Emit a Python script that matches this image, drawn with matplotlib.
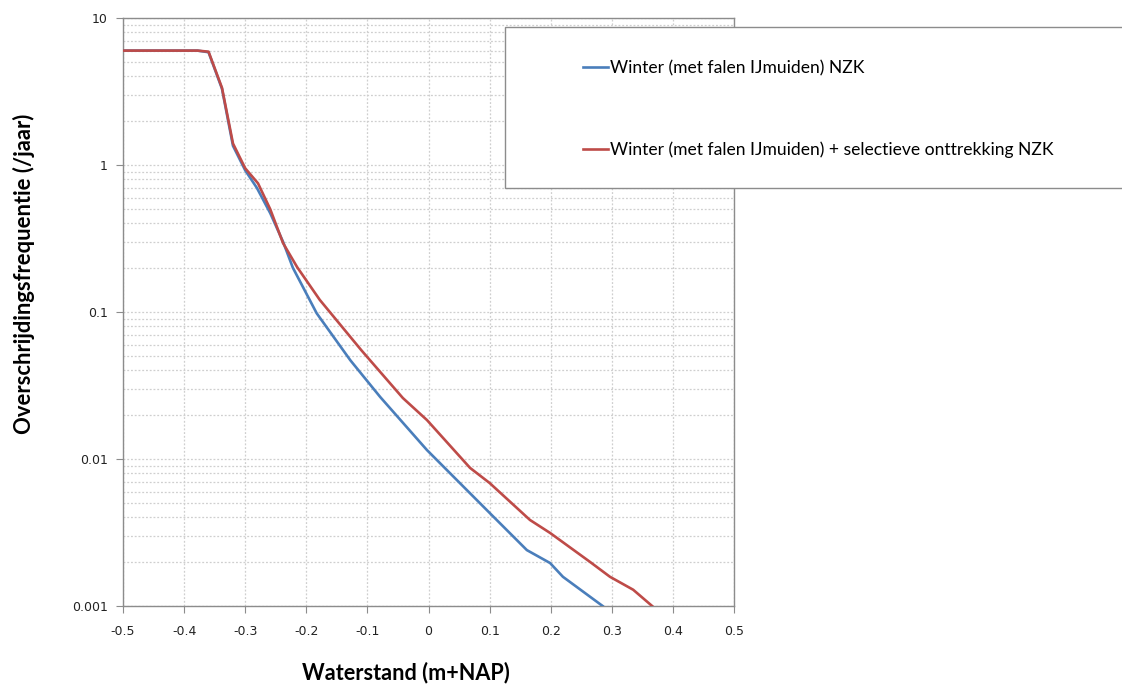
import matplotlib
matplotlib.use("Agg")
import matplotlib.pyplot as plt
from matplotlib.ticker import FixedLocator, FixedFormatter, LogLocator, NullFormatter
from matplotlib.patches import Rectangle
from matplotlib.lines import Line2D

# ---- data ----
blue_x = [-0.5, -0.378, -0.36, -0.338, -0.32, -0.30, -0.281, -0.259, -0.238,
          -0.222, -0.183, -0.128, -0.079, -0.0025, 0.10, 0.161, 0.199, 0.22, 0.285]
blue_y = [6.0, 6.0, 5.85, 3.3, 1.35, 0.92, 0.70, 0.47, 0.30,
          0.20, 0.098, 0.047, 0.0264, 0.0115, 0.0043, 0.0024, 0.00196, 0.00158, 0.001]

red_x = [-0.5, -0.378, -0.36, -0.338, -0.32, -0.30, -0.279, -0.259, -0.238,
         -0.215, -0.178, -0.11, -0.042, -0.0025, 0.068, 0.10, 0.166, 0.199,
         0.264, 0.297, 0.335, 0.366]
red_y = [6.0, 6.0, 5.9, 3.35, 1.4, 0.95, 0.75, 0.50, 0.294,
         0.202, 0.121, 0.055, 0.026, 0.0184, 0.0087, 0.00687, 0.00385, 0.00314,
         0.0020, 0.00158, 0.00129, 0.001]

x_ticks = [-0.5, -0.4, -0.3, -0.2, -0.1, 0.0, 0.1, 0.2, 0.3, 0.4, 0.5]
x_tick_labels = ["-0.5", "-0.4", "-0.3", "-0.2", "-0.1", "0", "0.1", "0.2", "0.3", "0.4", "0.5"]
y_ticks = [0.001, 0.01, 0.1, 1, 10]
y_tick_labels = ["0.001", "0.01", "0.1", "1", "10"]

label_blue = "Winter (met falen IJmuiden) NZK"
label_red = "Winter (met falen IJmuiden) + selectieve onttrekking NZK"
xlabel = "Waterstand (m+NAP)"
ylabel = "Overschrijdingsfrequentie (/jaar)"

blue_c = "#4a7ebb"
red_c = "#be4b48"
W, H = 1122, 684

fig = plt.figure(figsize=(W / 100, H / 100), dpi=100)
ax = fig.add_axes([123 / W, 1 - 606 / H, (734 - 123) / W, (606 - 18) / H])

ax.set_yscale("log")
ax.set_xlim(-0.5, 0.5)
ax.set_ylim(0.001, 10)

ax.plot(blue_x, blue_y, color=blue_c, lw=1.9, zorder=3)
ax.plot(red_x, red_y, color=red_c, lw=1.9, zorder=3)

ax.xaxis.set_major_locator(FixedLocator(x_ticks))
ax.xaxis.set_major_formatter(FixedFormatter(x_tick_labels))
ax.yaxis.set_major_locator(FixedLocator(y_ticks))
ax.yaxis.set_major_formatter(FixedFormatter(y_tick_labels))
ax.yaxis.set_minor_locator(LogLocator(base=10, subs=range(2, 10)))
ax.yaxis.set_minor_formatter(NullFormatter())

grid_kw = dict(color="#cfcfcf", linestyle=(0, (1.5, 1.5)), linewidth=0.9)
ax.grid(True, which="major", axis="both", **grid_kw)
ax.grid(True, which="minor", axis="y", **grid_kw)
ax.set_axisbelow(True)

for s in ax.spines.values():
    s.set_color("#8c8c8c")
    s.set_linewidth(1.0)

ax.tick_params(axis="x", which="major", direction="out", length=5,
               color="#8c8c8c", labelsize=9, labelcolor="#222222", pad=9)
ax.tick_params(axis="y", which="major", direction="out", length=5,
               color="#8c8c8c", labelsize=9, labelcolor="#222222", pad=6)
ax.tick_params(axis="y", which="minor", length=0)

for t in ax.get_xticklabels() + ax.get_yticklabels():
    t.set_family("DejaVu Sans")

fig.text(406 / W, 1 - 673 / H, xlabel, fontsize=15.6, fontweight="bold",
         family="Lato", ha="center", va="center")
fig.text(24 / W, 1 - 274 / H, ylabel, fontsize=15.8, fontweight="bold",
         family="Lato", ha="center", va="center", rotation=90)

# legend box (extends past the right edge as in the reference)
rect = Rectangle((505 / W, 1 - 188 / H), (1125 - 505) / W, (188 - 27) / H,
                 transform=fig.transFigure, facecolor="white", edgecolor="#8c8c8c",
                 linewidth=1.0, zorder=5, clip_on=False)
fig.patches.append(rect)

handles = [Line2D([], [], color=blue_c, lw=1.9), Line2D([], [], color=red_c, lw=1.9)]
leg = fig.legend(handles, [label_blue, label_red], loc="upper left",
                 bbox_to_anchor=(583 / W, 1 - 60 / H), frameon=False,
                 prop={"family": "Lato", "size": 12.6}, handlelength=1.43,
                 handletextpad=0.12, labelspacing=3.74, borderpad=0, borderaxespad=0)
leg.set_zorder(6)

fig.savefig("out.png", dpi=100)
